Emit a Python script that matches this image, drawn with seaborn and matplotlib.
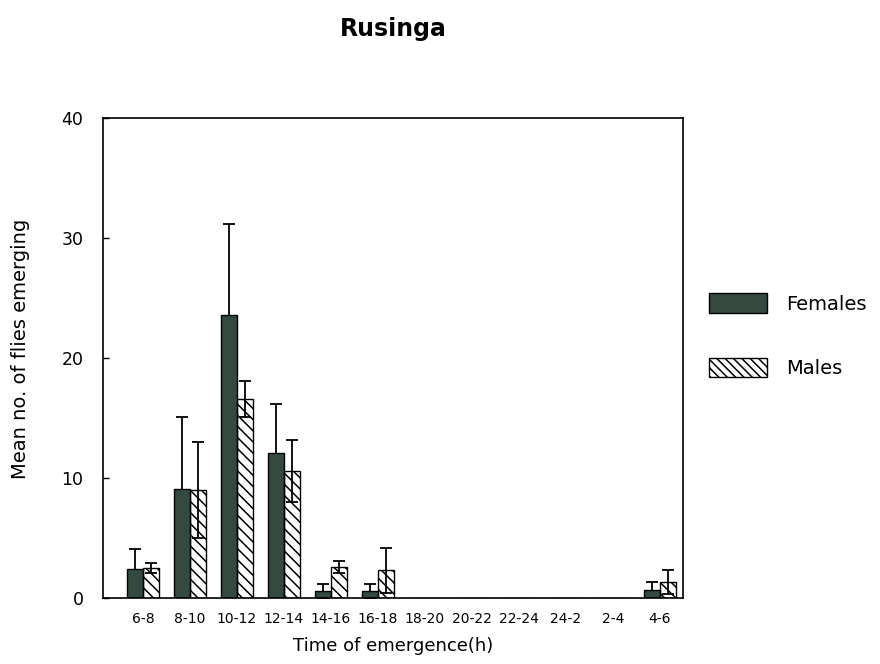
import matplotlib
matplotlib.use("Agg")
import matplotlib.pyplot as plt
import matplotlib.patches as mpatches
import numpy as np
import pandas as pd
import seaborn as sns

# Emergence time windows (hours)
periods = ["6-8", "8-10", "10-12", "12-14", "14-16", "16-18",
           "18-20", "20-22", "22-24", "24-2", "2-4", "4-6"]

# Mean number of flies emerging per window, with error bar half-widths
females = [2.4, 9.1, 23.6, 12.1, 0.6, 0.6, 0.0, 0.0, 0.0, 0.0, 0.0, 0.7]
females_err = [1.7, 6.0, 7.6, 4.1, 0.6, 0.6, 0.0, 0.0, 0.0, 0.0, 0.0, 0.6]
males = [2.5, 9.0, 16.6, 10.6, 2.6, 2.3, 0.0, 0.0, 0.0, 0.0, 0.0, 1.3]
males_err = [0.4, 4.0, 1.5, 2.6, 0.5, 1.9, 0.0, 0.0, 0.0, 0.0, 0.0, 1.0]

yticks = [0, 10, 20, 30, 40]

female_color = "#34493f"

sns.set_style("ticks")
plt.rcParams["font.family"] = ["DejaVu Sans"]
plt.rcParams["hatch.linewidth"] = 1.1
plt.rcParams["text.color"] = "black"
plt.rcParams["axes.labelcolor"] = "black"
plt.rcParams["xtick.color"] = "black"
plt.rcParams["ytick.color"] = "black"

df = pd.DataFrame({
    "period": periods * 2,
    "sex": ["Females"] * len(periods) + ["Males"] * len(periods),
    "mean": females + males,
})

fig = plt.figure(figsize=(8.8, 6.64), dpi=100)
ax = fig.add_axes([0.117, 0.0994, 0.659, 0.7229])

sns.barplot(data=df, x="period", y="mean", hue="sex", order=periods,
            hue_order=["Females", "Males"],
            palette={"Females": female_color, "Males": "white"},
            width=0.68, errorbar=None, legend=False, ax=ax,
            edgecolor="black", linewidth=1.0, saturation=1)

errs = {"Females": females_err, "Males": males_err}
for container, sex in zip(ax.containers, ["Females", "Males"]):
    xs, hs = [], []
    for bar in container:
        xs.append(bar.get_x() + bar.get_width() / 2)
        hs.append(bar.get_height())
        bar.set_zorder(2)
        if sex == "Males":
            bar.set_hatch("\\\\\\")
            bar.set_facecolor("none")
    xs = np.array(xs)
    hs = np.array(hs)
    e = np.array(errs[sex])
    mask = hs > 0
    ax.errorbar(xs[mask], hs[mask], yerr=e[mask], fmt="none",
                ecolor="black", elinewidth=1.3, capsize=4, capthick=1.3,
                zorder=1)

ax.set_xlim(-0.85, 11.49)
ax.set_ylim(0, 40)
ax.set_yticks(yticks)
ax.set_yticklabels([str(t) for t in yticks], fontsize=12.5)
ax.tick_params(axis="y", direction="in", length=4, width=1, pad=14)
ax.tick_params(axis="x", length=0, labelsize=10, pad=10)
for sp in ax.spines.values():
    sp.set_visible(True)
    sp.set_color("black")
    sp.set_linewidth(1.2)

ax.set_xlabel("Time of emergence(h)", fontsize=13, labelpad=8)
ax.set_ylabel("Mean no. of flies emerging", fontsize=14)
ax.yaxis.set_label_coords(-0.125, 0.52)

fig.suptitle("Rusinga", x=0.447, y=0.975, fontsize=17, fontweight="bold")

handles = [
    mpatches.Patch(facecolor=female_color, edgecolor="black", label="Females"),
    mpatches.Patch(facecolor="white", edgecolor="black", hatch="\\\\\\\\", label="Males"),
]
fig.legend(handles=handles, loc="upper left", bbox_to_anchor=(0.806, 0.558),
           frameon=False, fontsize=14, handlelength=2.95, handleheight=1.18,
           handletextpad=1.0, labelspacing=2.25, borderpad=0, borderaxespad=0)

fig.savefig("out.png", dpi=100)
